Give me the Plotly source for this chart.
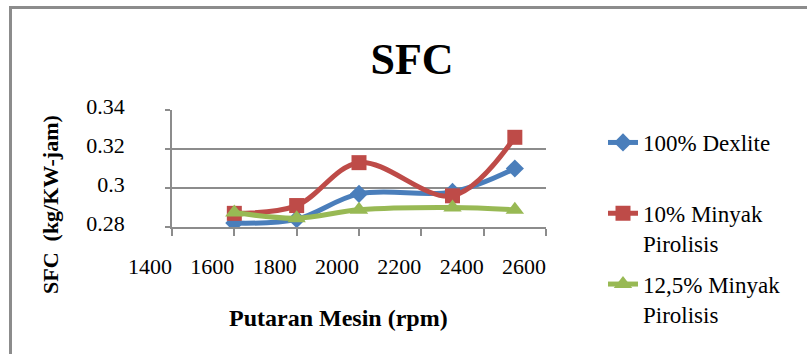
import plotly.graph_objects as go

# Engine speed (rpm) and specific fuel consumption (kg/kW-jam)
rpm = [1600, 1800, 2000, 2300, 2500]
sfc_dexlite = [0.282, 0.284, 0.297, 0.298, 0.310]
sfc_minyak_10 = [0.287, 0.291, 0.313, 0.296, 0.326]
sfc_minyak_125 = [0.2875, 0.2845, 0.2888, 0.290, 0.2888]

series_names = ["100% Dexlite<br>\u00a0", "10% Minyak<br>Pirolisis", "12,5% Minyak<br>Pirolisis"]
x_ticks = [1400, 1600, 1800, 2000, 2200, 2400, 2600]
y_ticks = [0.28, 0.30, 0.32, 0.34]

FONT = "Liberation Serif, Times New Roman, serif"
W, H = 807, 354
L, R, T, B = 172, 261, 110, 127
plot_w = W - L - R
plot_h = H - T - B


def px_x(p):
    return (p - L) / plot_w


def px_y(p):
    return (H - B - p) / plot_h


fig = go.Figure()
styles = [
    (sfc_dexlite, "#4A7EBB", "diamond", 14),
    (sfc_minyak_10, "#BE4B48", "square", 15),
    (sfc_minyak_125, "#98B954", "triangle-up", 16),
]
for i, (vals, col, sym, size) in enumerate(styles):
    fig.add_trace(go.Scatter(
        x=rpm, y=vals, name=series_names[i], legendgroup=f"g{i}",
        mode="lines+markers",
        line=dict(color=col, width=5, shape="spline", smoothing=1),
        marker=dict(symbol=sym, size=size, color=col),
    ))

fig.update_layout(
    width=W, height=H,
    margin=dict(l=L, r=R, t=T, b=B, autoexpand=False),
    paper_bgcolor="white", plot_bgcolor="white",
    font=dict(family=FONT, size=22, color="black"),
    title=dict(text="<b>SFC</b>", x=412 / W, xref="container", xanchor="center",
               y=1 - 59 / H, yref="container", yanchor="middle",
               font=dict(family=FONT, size=44, color="black")),
    legend=dict(x=px_x(603), xanchor="left", y=px_y(121), yanchor="top",
                font=dict(family=FONT, size=23, color="black"),
                valign="top", tracegroupgap=8, bgcolor="rgba(0,0,0,0)",
                maxheight=400),
    showlegend=True,
)

fig.update_xaxes(
    range=[1400, 2600], tickvals=x_ticks, ticktext=[str(v) for v in x_ticks],
    showgrid=False, zeroline=False,
    showline=True, linecolor="#8C8C8C", linewidth=1.5,
    ticks="outside", ticklen=7, tickcolor="#8C8C8C", tickwidth=1.5,
    ticklabelshift=-22, ticklabelstandoff=12,
    tickfont=dict(family=FONT, size=22, color="black"),
)
fig.update_yaxes(
    range=[0.28, 0.34], tickvals=y_ticks, ticktext=["0.28", "0.3", "0.32", "0.34"],
    showgrid=True, gridcolor="#8C8C8C", gridwidth=1.5, zeroline=False,
    showline=True, linecolor="#8C8C8C", linewidth=1.5,
    ticks="outside", ticklen=5, tickcolor="#8C8C8C", tickwidth=1.5,
    ticklabelstandoff=36, ticklabelshift=-4,
    tickfont=dict(family=FONT, size=22, color="black"),
)

# Axis titles
fig.add_annotation(text="<b>SFC\u00a0\u00a0(kg/KW-jam)</b>", textangle=-90,
                   xref="paper", yref="paper", x=px_x(50), y=px_y(204),
                   xanchor="center", yanchor="middle",
                   showarrow=False, font=dict(family=FONT, size=22, color="black"))
fig.add_annotation(text="<b>Putaran Mesin (rpm)</b>",
                   xref="paper", yref="paper", x=px_x(338), y=px_y(318),
                   xanchor="center", yanchor="middle",
                   showarrow=False, font=dict(family=FONT, size=24, color="black"))

# Chart-area frame
fig.add_shape(type="rect", xref="paper", yref="paper",
              x0=px_x(10.5), x1=px_x(W + 20), y0=px_y(H + 20), y1=px_y(7.5),
              line=dict(color="#8C8C8C", width=3), layer="below")

fig.write_html("out.html")
